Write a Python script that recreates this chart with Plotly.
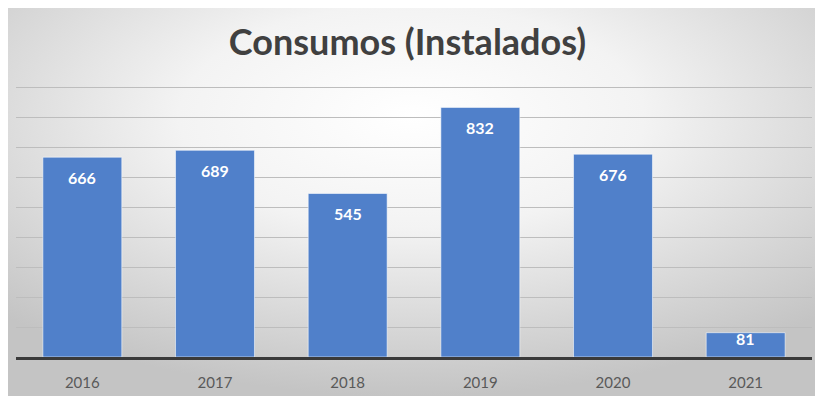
import base64
import plotly.graph_objects as go

# Data
years = ["2016", "2017", "2018", "2019", "2020", "2021"]
consumos = [666, 689, 545, 832, 676, 81]
chart_title = "Consumos (Instalados)"

# Canvas and plot-area geometry (pixels)
W, H = 815, 396
M_L, M_R, M_T, M_B = 16, 3, 84, 39
PW, PH = W - M_L - M_R, H - M_T - M_B
Y_MAX = 910

# Radial gradient backdrop drawn as an inline SVG image
svg = (
    '<svg xmlns="http://www.w3.org/2000/svg" width="807" height="388" '
    'viewBox="0 0 807 388" preserveAspectRatio="none">'
    '<defs><radialGradient id="g" cx="0.5" cy="0.28" r="0.72">'
    '<stop offset="0" stop-color="#ffffff"/>'
    '<stop offset="0.4" stop-color="#f3f3f3"/>'
    '<stop offset="1" stop-color="#c4c4c4"/>'
    '</radialGradient></defs>'
    '<rect width="807" height="388" fill="url(#g)"/></svg>'
)
bg_src = "data:image/svg+xml;base64," + base64.b64encode(svg.encode()).decode()

bg_left, bg_top = 8, 8
bg_image = dict(
    source=bg_src, xref="paper", yref="paper",
    x=(bg_left - M_L) / PW, y=(H - M_B - bg_top) / PH,
    sizex=(W - bg_left) / PW, sizey=(H - bg_top) / PH,
    xanchor="left", yanchor="top", sizing="stretch", layer="below",
)

fig = go.Figure()
fig.add_trace(go.Bar(
    x=years, y=consumos,
    marker=dict(color="#5080CA", line=dict(color="rgba(255,255,255,0.55)", width=1)),
    hoverinfo="x+y",
))

# Value labels near the top of each bar (x given as category index)
annotations = []
for i, v in enumerate(consumos):
    bar_px = v / Y_MAX * PH
    offset = min(20, bar_px * 0.23)
    annotations.append(dict(
        x=i, y=v, xref="x", yref="y", text=str(v), showarrow=False,
        yanchor="middle", yshift=-offset,
        font=dict(family="Lato", size=16, color="#ffffff", weight="bold"),
    ))

fig.update_layout(
    width=W, height=H,
    margin=dict(l=M_L, r=M_R, t=M_T, b=M_B, pad=0),
    paper_bgcolor="#ffffff",
    plot_bgcolor="rgba(0,0,0,0)",
    images=[bg_image],
    bargap=0.405,
    showlegend=False,
    title=dict(
        text=chart_title, x=0.5, xanchor="center", xref="container",
        y=1 - 42 / H, yanchor="middle", yref="container",
        font=dict(family="Lato", size=36, color="#404040", weight="bold"),
    ),
    annotations=annotations,
    xaxis=dict(
        type="category", range=[-0.5, len(years) - 0.5],
        showline=True, linecolor="#3a3a3a", linewidth=3,
        ticks="", showgrid=False, ticklabelstandoff=10,
        tickfont=dict(family="Lato", size=15, color="#595959"),
    ),
    yaxis=dict(
        range=[0, Y_MAX], dtick=100, showgrid=True, gridcolor="#bdbdbd",
        gridwidth=1, showticklabels=False, zeroline=False, showline=False,
    ),
)

fig.write_html("out.html")
